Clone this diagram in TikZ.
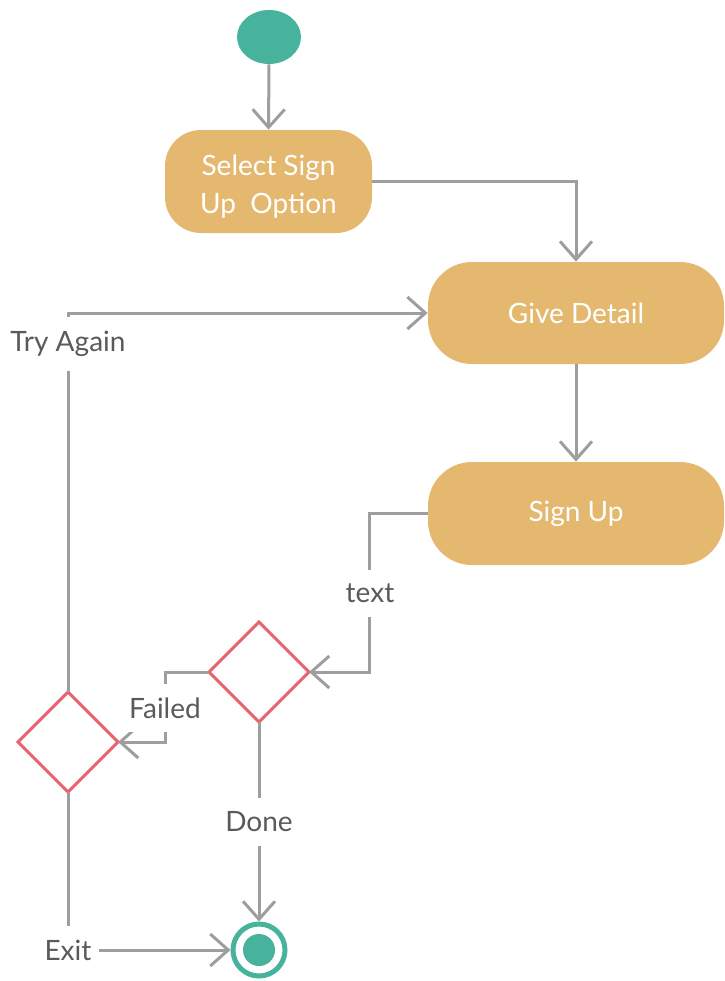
\documentclass[tikz,border=0pt]{standalone}
\usepackage{fontspec}
\setmainfont{Lato}
\usetikzlibrary{arrows.meta,shapes.geometric}
\definecolor{teal}{HTML}{47B39C}
\definecolor{boxc}{HTML}{E5B870}
\definecolor{redc}{HTML}{E8636E}
\definecolor{linec}{HTML}{9E9E9E}
\definecolor{txtc}{HTML}{5A5A5A}
\tikzset{
  act/.style={rectangle, rounded corners=18pt, fill=boxc, text=white, align=center,
    font=\fontsize{14}{19}\selectfont, inner sep=0pt},
  dec/.style={diamond, draw=redc, line width=1.5pt, fill=white, inner sep=0pt,
    minimum width=50pt, minimum height=50pt, aspect=1, outer sep=0pt},
  arr/.style={draw=linec, line width=1.5pt, -{Straight Barb[length=9pt,width=16pt,line width=1.5pt]}},
  lbl/.style={fill=white, text=txtc, font=\fontsize{14}{16}\selectfont, inner xsep=4pt, inner ysep=7pt}
}
\begin{document}
\begin{tikzpicture}[x=0.5pt,y=-0.5pt]
\useasboundingbox (0,0) rectangle (724,981);
% nodes
\node[ellipse, fill=teal, minimum width=32pt, minimum height=27pt, inner sep=0pt] (start) at (269,37) {};
\node[act, minimum width=103.5pt, minimum height=51.5pt, text height=34pt] (sel) at (268.5,181.5) {Select Sign\\Up\ \ Option};
\node[act, rounded corners=22pt, minimum width=148pt, minimum height=51pt] (give) at (576,313) {Give Detail};
\node[act, rounded corners=22pt, minimum width=148pt, minimum height=51.5pt] (sign) at (576,513.5) {Sign Up};
\node[dec] (d1) at (259,672) {};
\node[dec] (d2) at (68,742) {};
\node[circle, draw=teal, line width=2.5pt, fill=white, minimum size=26pt, inner sep=0pt] (fin) at (259,950) {};
\node[circle, fill=teal, minimum size=16pt, inner sep=0pt] (findot) at (259,950) {};
% connectors
\draw[arr] (start.south) -- (sel.north);
\draw[arr] (sel.east) -| (give.north);
\draw[arr] (give.south) -- (sign.north);
\draw[arr] (sign.west) -- ++(-58,0) coordinate (c1) |- (d1.east);
\draw[arr] (d1.west) -- ++(-44,0) coordinate (c2) |- (d2.east);
\draw[arr] (d2.north) |- (give.west);
\draw[arr] (d1.south) -- (fin.north);
\draw[arr] (d2.south) |- (fin.west);
% labels
\node[lbl] (ltext) at (370,593) {text};
\node[lbl] (lfail) at (165,708) {Failed};
\node[lbl] (ltry) at (68,344) {Try Again};
\node[lbl] (ldone) at (259,822) {Done};
\node[lbl] (lexit) at (68,950) {Exit};
\end{tikzpicture}
\end{document}
